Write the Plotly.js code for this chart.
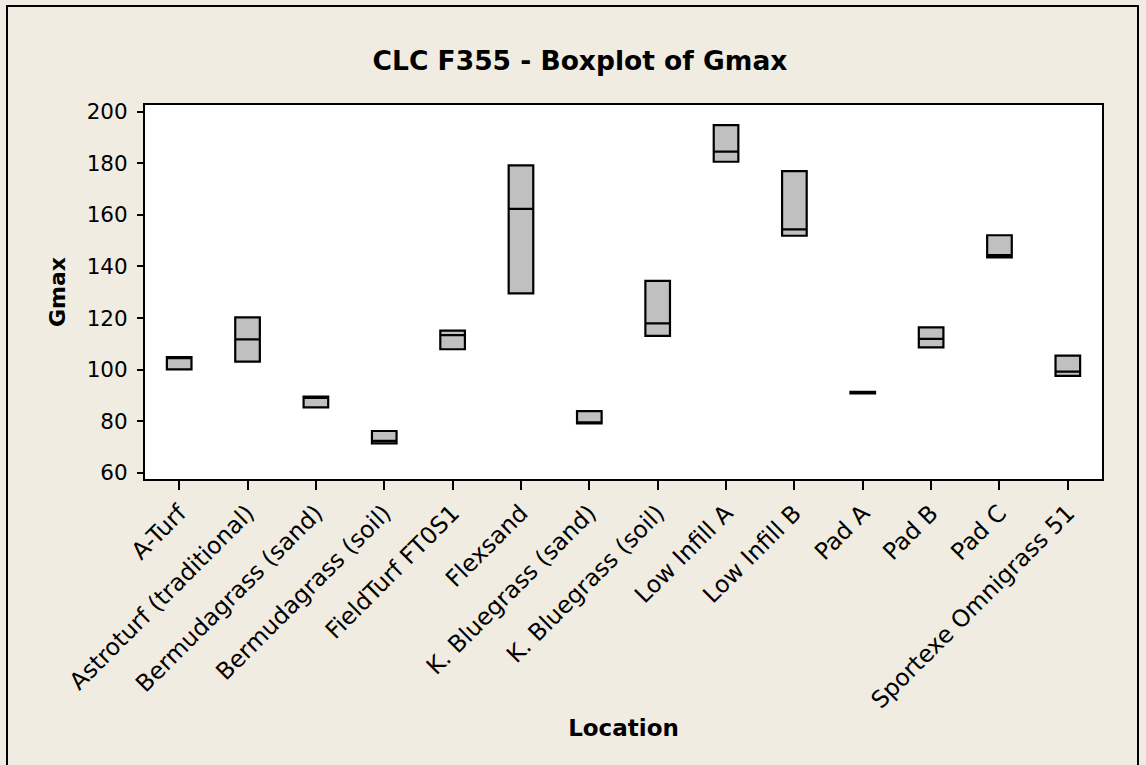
<!DOCTYPE html>
<html>
<head>
<meta charset="utf-8">
<script src="https://cdn.plot.ly/plotly-3.0.1.min.js"></script>
<style>
  html, body { margin: 0; padding: 0; background: #F0ECE2; }
  #chart { width: 1146px; height: 765px; }
</style>
</head>
<body>
<div id="chart"></div>
<script>
const categories = [
  "A-Turf", "Astroturf (traditional)", "Bermudagrass (sand)", "Bermudagrass (soil)",
  "FieldTurf FT0S1", "Flexsand", "K. Bluegrass (sand)", "K. Bluegrass (soil)",
  "Low Infill A", "Low Infill B", "Pad A", "Pad B", "Pad C", "Sportexe Omnigrass 51"
];
const q1Vals     = [100.1, 103.1, 85.4, 71.4, 107.9, 129.6, 79.2, 113.1, 180.6, 151.9, 90.8, 108.6, 143.5, 97.6];
const medianVals = [104.5, 111.7, 89.0, 72.4, 113.4, 162.3, 79.6, 117.9, 184.5, 154.4, 91.1, 111.9, 144.4, 99.2];
const q3Vals     = [104.9, 120.3, 89.5, 76.2, 115.1, 179.2, 83.9, 134.4, 194.8, 177.0, 91.4, 116.4, 152.1, 105.4];
const yTickVals  = [60, 80, 100, 120, 140, 160, 180, 200];

const FONT = "DejaVu Sans, Verdana, sans-serif";

const trace = {
  type: "box",
  x: categories,
  q1: q1Vals,
  median: medianVals,
  q3: q3Vals,
  lowerfence: q1Vals,
  upperfence: q3Vals,
  fillcolor: "#C0C0C0",
  line: { color: "#000000", width: 2.2 },
  whiskerwidth: 0,
  width: 0.36,
  boxpoints: false,
  hoverinfo: "skip",
  showlegend: false
};

const layout = {
  width: 1146,
  height: 765,
  paper_bgcolor: "#F0ECE2",
  plot_bgcolor: "#FFFFFF",
  margin: { l: 145, r: 44, t: 105, b: 286, pad: 0 },
  font: { family: FONT, color: "#000000", size: 21 },
  title: {
    text: "<b>CLC F355 - Boxplot of Gmax</b>",
    font: { family: FONT, size: 26.5, color: "#000000" },
    x: 580 / 1146, xref: "container", xanchor: "center",
    y: 1 - 61 / 765, yref: "container", yanchor: "middle"
  },
  xaxis: {
    type: "category",
    range: [-0.5, 13.5],
    tickangle: -45,
    ticks: "outside",
    ticklen: 9,
    tickwidth: 2,
    tickcolor: "#000000",
    tickfont: { family: FONT, size: 23.5, color: "#000000" },
    showline: true,
    mirror: true,
    linecolor: "#000000",
    linewidth: 2,
    showgrid: false,
    zeroline: false,
    automargin: false,
    title: {
      text: "<b>Location</b>",
      font: { family: FONT, size: 23, color: "#000000" },
      standoff: 7
    }
  },
  yaxis: {
    range: [57.6, 202.6],
    tickvals: yTickVals,
    ticktext: yTickVals.map(String),
    ticks: "outside",
    ticklen: 6,
    tickwidth: 2,
    tickcolor: "#000000",
    tickfont: { family: FONT, size: 21.5, color: "#000000" },
    ticklabelstandoff: 5,
    showline: true,
    mirror: true,
    linecolor: "#000000",
    linewidth: 2,
    showgrid: false,
    zeroline: false,
    automargin: false,
    title: {
      text: "<b>Gmax</b>",
      font: { family: FONT, size: 22, color: "#000000" },
      standoff: 15
    }
  },
  shapes: [{
    type: "rect",
    xref: "paper", yref: "paper",
    x0: (7 - 145) / 957, x1: (1138 - 145) / 957,
    y0: (479 - 780) / 374, y1: (479 - 6) / 374,
    line: { color: "#000000", width: 2 },
    fillcolor: "rgba(0,0,0,0)",
    layer: "below"
  }]
};

Plotly.newPlot("chart", [trace], layout, { displayModeBar: false, staticPlot: true });
</script>
</body>
</html>
